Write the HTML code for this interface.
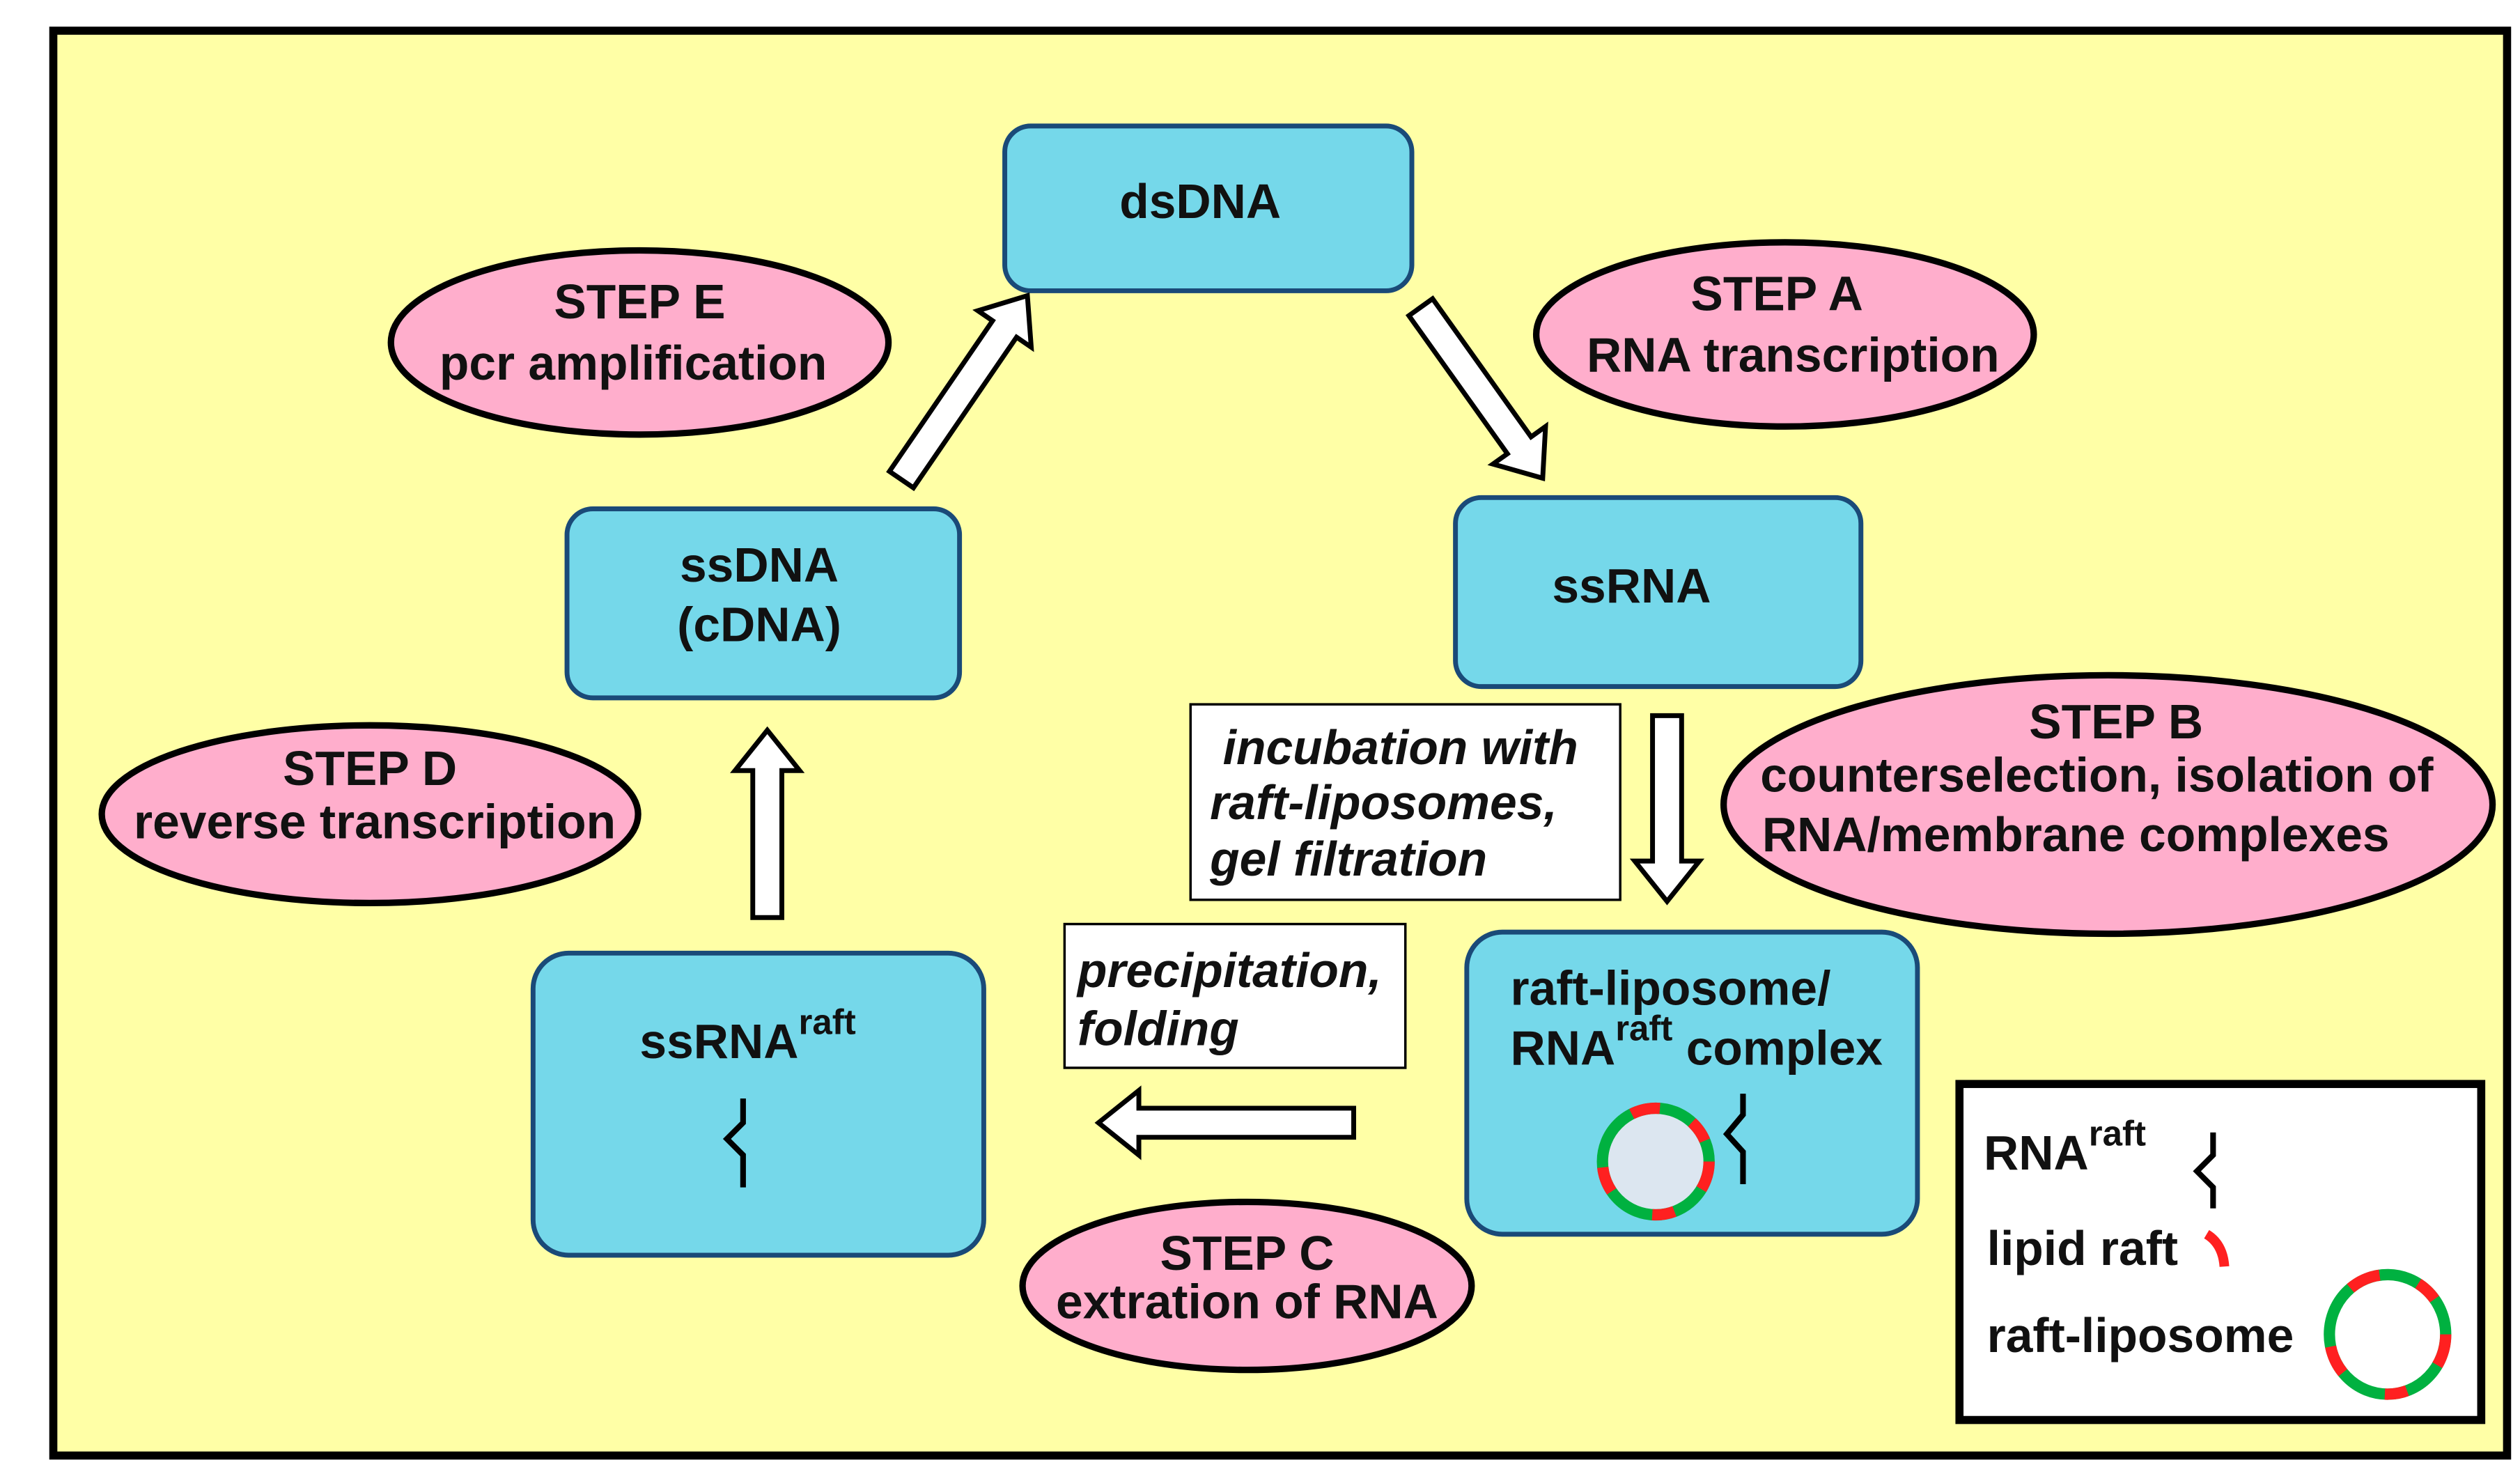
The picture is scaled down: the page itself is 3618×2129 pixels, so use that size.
<!DOCTYPE html>
<html><head><meta charset="utf-8"><style>
html,body{margin:0;padding:0;background:#fff;}
svg{display:block;}
text{font-family:"Liberation Sans",Arial,sans-serif;font-weight:bold;fill:#111;}
</style></head><body>
<svg width="3618" height="2129" viewBox="0 0 1560 918" preserveAspectRatio="none" xmlns="http://www.w3.org/2000/svg">
<rect x="0" y="0" width="1560" height="918" fill="#fff"/>
<rect x="33" y="19" width="1519" height="882" fill="#ffffa6" stroke="#000" stroke-width="5"/>

<!-- boxes -->
<g fill="#75d8ea" stroke="#1a4a78" stroke-width="3">
<rect x="622" y="78" width="252" height="102" rx="16"/>
<rect x="901" y="308" width="251" height="117" rx="16"/>
<rect x="351" y="315" width="243" height="117" rx="16"/>
<rect x="330" y="590" width="279" height="187" rx="22"/>
<rect x="908" y="577" width="279" height="187" rx="22"/>
</g>
<g font-size="30">
<text x="743" y="135" text-anchor="middle">dsDNA</text>
<text x="1010" y="373" text-anchor="middle">ssRNA</text>
<text x="470" y="360" text-anchor="middle">ssDNA</text>
<text x="470" y="397" text-anchor="middle">(cDNA)</text>
<text x="396" y="655">ssRNA<tspan font-size="22" dy="-15">raft</tspan></text>
<text x="935" y="622">raft-liposome/</text>
<text x="935" y="659">RNA<tspan font-size="22" dy="-15">raft</tspan><tspan dy="15"> complex</tspan></text>
</g>

<!-- liposome in complex -->
<ellipse cx="1025" cy="719" rx="33" ry="33" fill="#dce6f0"/>
<ellipse cx="1025" cy="719" rx="33" ry="33" fill="none" stroke="#00b140" stroke-width="7"/>
<ellipse cx="1025" cy="719" rx="33" ry="33" fill="none" stroke="#ff2020" stroke-width="7" stroke-dasharray="18 22 14 30 16 40"/>

<!-- STEP ellipses -->
<g fill="#ffaecc" stroke="#000" stroke-width="4">
<ellipse cx="396" cy="212" rx="154" ry="57"/>
<ellipse cx="1105" cy="207" rx="154" ry="57"/>
<ellipse cx="229" cy="504" rx="166" ry="55"/>
<ellipse cx="1305" cy="498" rx="238" ry="80"/>
<ellipse cx="772" cy="796" rx="139" ry="52"/>
</g>
<g font-size="30" text-anchor="middle">
<text x="396" y="197">STEP E</text>
<text x="392" y="235">pcr amplification</text>
<text x="1100" y="192">STEP A</text>
<text x="1110" y="230">RNA transcription</text>
<text x="229" y="486">STEP D</text>
<text x="232" y="519">reverse transcription</text>
<text x="1310" y="457">STEP B</text>
<text x="1298" y="490">counterselection, isolation of</text>
<text x="1285" y="527">RNA/membrane complexes</text>
<text x="772" y="786">STEP C</text>
<text x="772" y="816">extration of RNA</text>
</g>

<!-- text boxes -->
<rect x="737" y="436" width="266" height="121" fill="#fff" stroke="#000" stroke-width="1.5"/>
<g font-size="30" font-style="italic">
<text x="757" y="473">incubation with</text>
<text x="749" y="507">raft-liposomes,</text>
<text x="749" y="542">gel filtration</text>
</g>
<rect x="659" y="572" width="211" height="89" fill="#fff" stroke="#000" stroke-width="1.5"/>
<g font-size="30" font-style="italic">
<text x="667" y="611">precipitation,</text>
<text x="667" y="647">folding</text>
</g>

<!-- arrows -->
<g fill="#fff" stroke="#000" stroke-width="3">
<polygon transform="translate(475,452) rotate(-90)" points="0,0 -25,20 -25,9 -116,9 -116,-9 -25,-9 -25,-20"/>
<polygon transform="translate(1032,558) rotate(90)" points="0,0 -25,20 -25,9 -115,9 -115,-9 -25,-9 -25,-20"/>
<polygon transform="translate(680,695) rotate(180)" points="0,0 -25,20 -25,9 -158,9 -158,-9 -25,-9 -25,-20"/>
<polygon transform="translate(636,183) rotate(-55.6)" points="0,0 -25,20 -25,9 -138,9 -138,-9 -25,-9 -25,-20"/>
<polygon transform="translate(955,296) rotate(54.5)" points="0,0 -25,20 -25,9 -130,9 -130,-9 -25,-9 -25,-20"/>
</g>

<!-- legend -->
<rect x="1213" y="671" width="323" height="208" fill="#fff" stroke="#000" stroke-width="5"/>
<g font-size="30">
<text x="1228" y="724">RNA<tspan font-size="22" dy="-15">raft</tspan></text>
<text x="1230" y="783">lipid raft</text>
<text x="1230" y="837">raft-liposome</text>
</g>
<path d="M1366,764 Q1376,770 1377,784" fill="none" stroke="#ff2020" stroke-width="6"/>
<ellipse cx="1478" cy="826" rx="36" ry="37" fill="none" stroke="#00b140" stroke-width="7"/>
<ellipse cx="1478" cy="826" rx="36" ry="37" fill="none" stroke="#ff2020" stroke-width="7" stroke-dasharray="20 25 14 30 18 40"/>

<!-- squiggles -->
<g fill="none" stroke="#000" stroke-width="3.5">
<path d="M460,680 V695 L450,705 L460,715 V735"/>
<path d="M1079,677 V690 L1069,702 L1079,713 V733"/>
<path d="M1370,701 V715 L1360,725 L1370,735 V748"/>
</g>
</svg>
</body></html>
